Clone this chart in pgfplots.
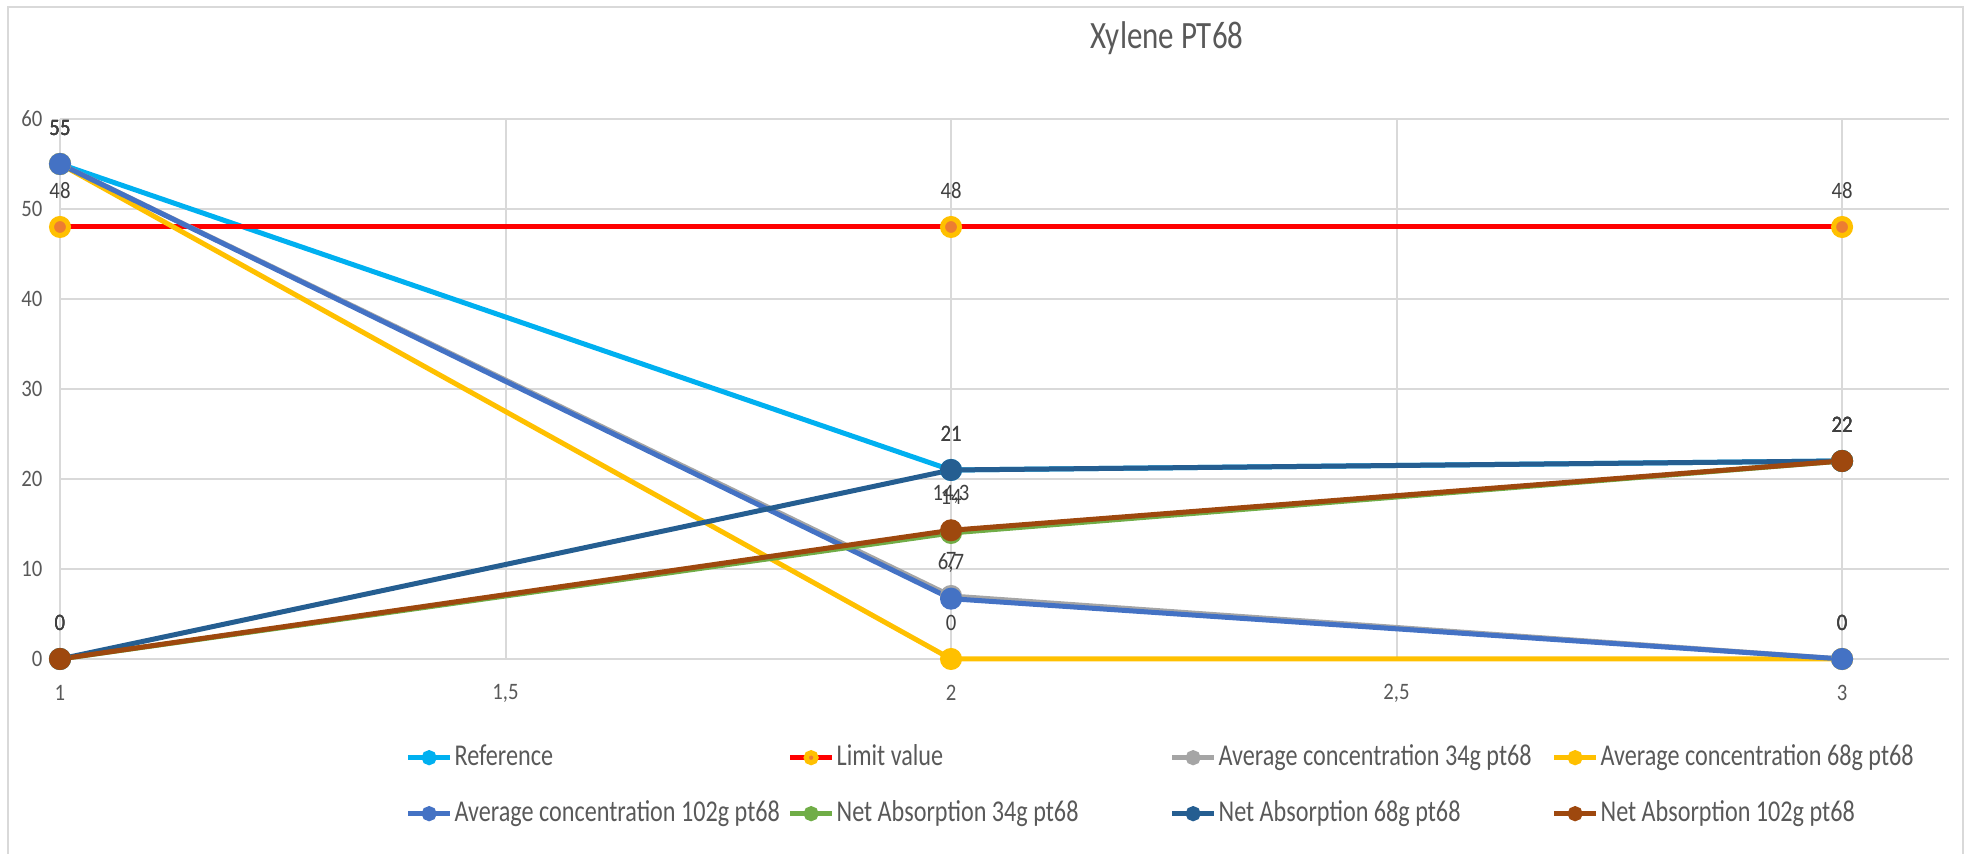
\documentclass[border=0pt]{standalone}
\usepackage{pgfplots}
\pgfplotsset{compat=1.18}
\usepackage{fontspec}
\setmainfont{Carlito}
\newfontfamily\squeezed{Carlito}[FakeStretch=0.8]
\newfontfamily\numfont{Carlito}[FakeStretch=0.88]
\definecolor{cref}{HTML}{00B0F0}
\definecolor{climit}{HTML}{FF0000}
\definecolor{climfill}{HTML}{ED7D31}
\definecolor{climdraw}{HTML}{FFC000}
\definecolor{cavgA}{HTML}{A5A5A5}
\definecolor{cavgB}{HTML}{FFC000}
\definecolor{cavgC}{HTML}{4472C4}
\definecolor{cnetA}{HTML}{70AD47}
\definecolor{cnetB}{HTML}{255E91}
\definecolor{cnetC}{HTML}{9E480E}
\definecolor{gridgray}{HTML}{D9D9D9}
\definecolor{textgray}{HTML}{595959}
\definecolor{labgray}{HTML}{404040}
\newcommand{\legtxt}[1]{\makebox[33.3mm][l]{#1}}
\begin{document}
\begin{tikzpicture}[x=1mm,y=1mm]
\path (0,0) rectangle (196.8,85.4);
\draw[gridgray, line width=0.2mm] (0.8,0) -- (0.8,84.7) -- (196.3,84.7) -- (196.3,0);
\begin{axis}[
  at={(6mm,19.5mm)}, anchor=south west,
  scale only axis, width=188.9mm, height=54mm,
  xmin=1, xmax=3.12, ymin=0, ymax=60,
  clip=false,
  xtick={1,1.5,2,2.5,3},
  xticklabels={1,{1,5},2,{2,5},3},
  ytick={0,10,20,30,40,50,60},
  axis line style={draw=none},
  tick style={draw=none},
  grid=major,
  grid style={color=gridgray, line width=0.2mm},
  ticklabel style={font=\numfont\fontsize{6.7}{8}\selectfont, text=textgray},
  xticklabel style={anchor=center, yshift=-3.4mm},
  yticklabel style={anchor=east, inner sep=0pt, xshift=-1.7mm},
  /pgf/number format/assume math mode=true,
  title={Xylene PT68},
  title style={at={(0.586,1.111)}, anchor=center, font=\squeezed\fontsize{11}{13}\selectfont, text=textgray},
  every axis plot/.append style={line width=0.5mm, mark=*, mark size=0.85mm, mark options={solid}},
  nodes near coords={\pgfmathprintnumber[use comma]{\pgfplotspointmeta}},
  every node near coord/.append style={anchor=center, yshift=3.6mm, font=\numfont\fontsize{6.7}{8}\selectfont, text=labgray},
  legend columns=4,
  legend cell align=left,
  legend image code/.code={\draw[mark repeat=2,mark phase=2,#1,mark size=0.5mm] plot coordinates {(0mm,0mm) (2.1mm,0mm) (4.2mm,0mm)};},
  legend style={at={(0.1826,-0.1546)}, anchor=north west, draw=none, fill=none,
    font=\squeezed\fontsize{8.6}{10}\selectfont, text=textgray, inner sep=0pt, row sep=2.7mm,
    nodes={inner sep=0pt, text height=2.2mm, text depth=0.7mm},
    /tikz/every odd column/.append style={column sep=0.2mm},
    /tikz/every even column/.append style={column sep=0mm}},
]
\addplot[color=cref, mark options={fill=cref}] coordinates {(1,55) (2,21) (3,22)};
\addlegendentry{\legtxt{Reference}}
\addplot[color=climit, mark options={fill=climfill, draw=climdraw}] coordinates {(1,48) (2,48) (3,48)};
\addlegendentry{\legtxt{Limit value}}
\addplot[color=cavgA, mark options={fill=cavgA}] coordinates {(1,55) (2,7) (3,0)};
\addlegendentry{\legtxt{Average concentration 34g pt68}}
\addplot[color=cavgB, mark options={fill=cavgB}] coordinates {(1,55) (2,0) (3,0)};
\addlegendentry{\legtxt{Average concentration 68g pt68}}
\addplot[color=cavgC, mark options={fill=cavgC}] coordinates {(1,55) (2,6.7) (3,0)};
\addlegendentry{\legtxt{Average concentration 102g pt68}}
\addplot[color=cnetA, mark options={fill=cnetA}] coordinates {(1,0) (2,14) (3,22)};
\addlegendentry{\legtxt{Net Absorption 34g pt68}}
\addplot[color=cnetB, mark options={fill=cnetB}] coordinates {(1,0) (2,21) (3,22)};
\addlegendentry{\legtxt{Net Absorption 68g pt68}}
\addplot[color=cnetC, mark options={fill=cnetC}] coordinates {(1,0) (2,14.3) (3,22)};
\addlegendentry{\legtxt{Net Absorption 102g pt68}}
\end{axis}
\end{tikzpicture}
\end{document}
